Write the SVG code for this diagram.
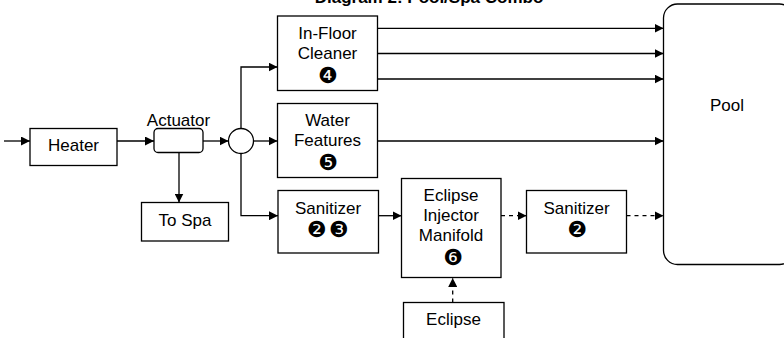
<svg xmlns="http://www.w3.org/2000/svg" width="784" height="338" viewBox="0 0 784 338">
<defs>
<marker id="ah" markerUnits="userSpaceOnUse" markerWidth="10" markerHeight="9" refX="9" refY="4.5" orient="auto">
<path d="M0,0 L9,4.5 L0,9 z" fill="#000"/>
</marker>
<style>
.box{fill:#fff;stroke:#000;stroke-width:1.3}
.t{font-family:"Liberation Sans",Arial,sans-serif;font-size:17px;text-anchor:middle;fill:#000}
.n{font-family:"DejaVu Sans",sans-serif;font-size:22px;text-anchor:middle;fill:#000}
.c{fill:none;stroke:#000;stroke-width:1.3;marker-end:url(#ah)}
.d{stroke-dasharray:4,4}
.title{font-family:"Liberation Sans",Arial,sans-serif;font-size:17px;font-weight:bold;text-anchor:middle;fill:#000}
</style>
</defs>
<rect width="784" height="338" fill="#fff"/>
<text class="title" x="429" y="3">Diagram 2: Pool/Spa Combo</text>
<g id="connectors">
<path class="c" d="M4,141 H30"/>
<path class="c" d="M117,141 H154"/>
<path class="c" d="M203,141 H228.5"/>
<path class="c" d="M253.5,141 H277.5"/>
<path class="c" d="M241,128.5 V67 H277.5"/>
<path class="c" d="M241,153.5 V215.7 H278"/>
<path class="c" d="M179,153 V202.5"/>
<path class="c" d="M377.5,28.3 H663.5"/>
<path class="c" d="M377.5,53.5 H663.5"/>
<path class="c" d="M377.5,79 H663.5"/>
<path class="c" d="M377.5,141 H663.5"/>
<path class="c" d="M378.5,215.7 H401.5"/>
<path class="c d" d="M501,215.7 H526.5"/>
<path class="c d" d="M626.5,215.7 H663.5"/>
<path class="c d" d="M452.7,302.5 V278"/>
</g>
<g id="heater">
<rect class="box" x="30" y="128.5" width="87" height="37"/>
<text class="t" x="73.5" y="150.5">Heater</text>
</g>
<g id="actuator">
<rect class="box" x="154" y="128.5" width="49" height="24" rx="4"/>
<text class="t" x="178.5" y="126">Actuator</text>
</g>
<g id="junction">
<circle class="box" cx="241" cy="141" r="12.5"/>
</g>
<g id="to-spa">
<rect class="box" x="141.5" y="202.5" width="87" height="38.5"/>
<text class="t" x="185" y="226">To Spa</text>
</g>
<g id="in-floor-cleaner">
<rect class="box" x="277.5" y="16" width="100" height="74.5"/>
<text class="t" x="327.5" y="39">In-Floor</text>
<text class="t" x="327.5" y="58.7">Cleaner</text>
<text class="n" x="328" y="83">❹</text>
</g>
<g id="water-features">
<rect class="box" x="277.5" y="103.5" width="100" height="74"/>
<text class="t" x="327.5" y="125.5">Water</text>
<text class="t" x="327.5" y="146">Features</text>
<text class="n" x="328" y="169.7">❺</text>
</g>
<g id="sanitizer-1">
<rect class="box" x="278" y="190.5" width="100.5" height="62.5"/>
<text class="t" x="328" y="214.3">Sanitizer</text>
<text class="n" y="237.3"><tspan x="316.5">❷</tspan><tspan x="338.5">❸</tspan></text>
</g>
<g id="eclipse-injector-manifold">
<rect class="box" x="401.5" y="178.5" width="99.5" height="99"/>
<text class="t" x="451" y="201">Eclipse</text>
<text class="t" x="451" y="221">Injector</text>
<text class="t" x="451" y="241">Manifold</text>
<text class="n" x="453" y="264.7">❻</text>
</g>
<g id="sanitizer-2">
<rect class="box" x="526.5" y="190.5" width="100" height="62.5"/>
<text class="t" x="576.5" y="214.3">Sanitizer</text>
<text class="n" x="577" y="237.3">❷</text>
</g>
<g id="pool">
<rect class="box" x="663.5" y="4" width="130" height="260.5" rx="14"/>
<text class="t" x="727" y="111">Pool</text>
</g>
<g id="eclipse">
<rect class="box" x="403.5" y="302.5" width="100.5" height="50"/>
<text class="t" x="453.5" y="325.3">Eclipse</text>
</g>
</svg>
